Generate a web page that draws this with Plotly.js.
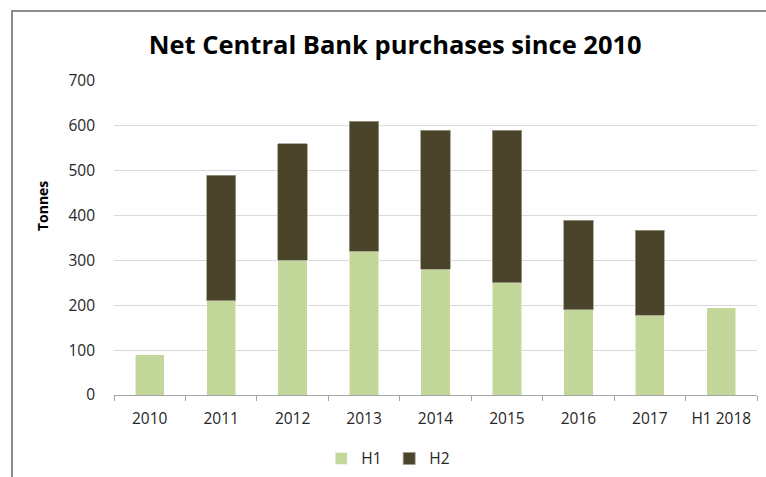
<!DOCTYPE html>
<html>
<head>
<meta charset="utf-8">
<script src="https://cdn.plot.ly/plotly-3.0.1.min.js"></script>
<style>
html,body{margin:0;padding:0;background:#fff;overflow:hidden;}
#frame{position:absolute;left:11px;top:10px;width:800px;height:500px;border-left:2px solid #8c8c8c;border-top:2px solid #8c8c8c;}
#chart{position:absolute;left:0;top:0;width:766px;height:477px;}
</style>
</head>
<body>
<div id="frame"></div>
<div id="chart"></div>
<script>
const categories = ["2010","2011","2012","2013","2014","2015","2016","2017","H1 2018"];
const h1Values = [90, 210, 300, 320, 280, 250, 190, 178, 195];
const h2Values = [null, 280, 260, 290, 310, 340, 200, 189, null];
const yTicks = [0,100,200,300,400,500,600,700];

const font = "Open Sans, Noto Sans, sans-serif";
const traces = [
  {type:"bar", name:"H1", x:categories, y:h1Values, marker:{color:"#c4d79b", line:{color:"#ffffff", width:0.5}}},
  {type:"bar", name:"H2", x:categories, y:h2Values, marker:{color:"#4a452a", line:{color:"#a09c8c", width:0.8}}}
];
const layout = {
  width:766, height:477,
  paper_bgcolor:"rgba(0,0,0,0)", plot_bgcolor:"rgba(0,0,0,0)",
  barmode:"stack", bargap:0.59,
  margin:{l:114, r:9, t:81, b:81.5},
  title:{text:"<b>Net Central Bank purchases since 2010</b>", x:0.516, xanchor:"center", y:0.905, yanchor:"middle",
         font:{family:font, size:25.5, color:"#000"}},
  xaxis:{type:"category", tickson:"boundaries", ticks:"outside", ticklen:5, tickcolor:"#a6a6a6",
         showline:true, linecolor:"#a6a6a6", linewidth:1, showgrid:false, automargin:false,
         ticklabelstandoff:9,
         tickfont:{family:font, size:15.5, color:"#262626"}},
  yaxis:{range:[0,700], tickvals:yTicks, showgrid:true, gridcolor:"#d9d9d9", gridwidth:1,
         zeroline:false, showline:false, ticks:"", ticklabelstandoff:18, automargin:false,
         tickfont:{family:font, size:15.5, color:"#262626"}},
  annotations:[{text:"<b>Tonnes</b>", xref:"paper", yref:"paper", x:-0.110, y:0.6025,
                xanchor:"center", yanchor:"middle", textangle:-90, showarrow:false,
                font:{family:font, size:14, color:"#000"}}],
  showlegend:true,
  legend:{orientation:"h", x:0.428, xanchor:"center", yref:"container", y:0.038, yanchor:"middle",
          font:{family:font, size:15.5, color:"#262626"}, itemwidth:30, entrywidth:23, entrywidthmode:"pixels",
          traceorder:"normal"}
};
Plotly.newPlot("chart", traces, layout, {displayModeBar:false, staticPlot:true});
</script>
</body>
</html>
